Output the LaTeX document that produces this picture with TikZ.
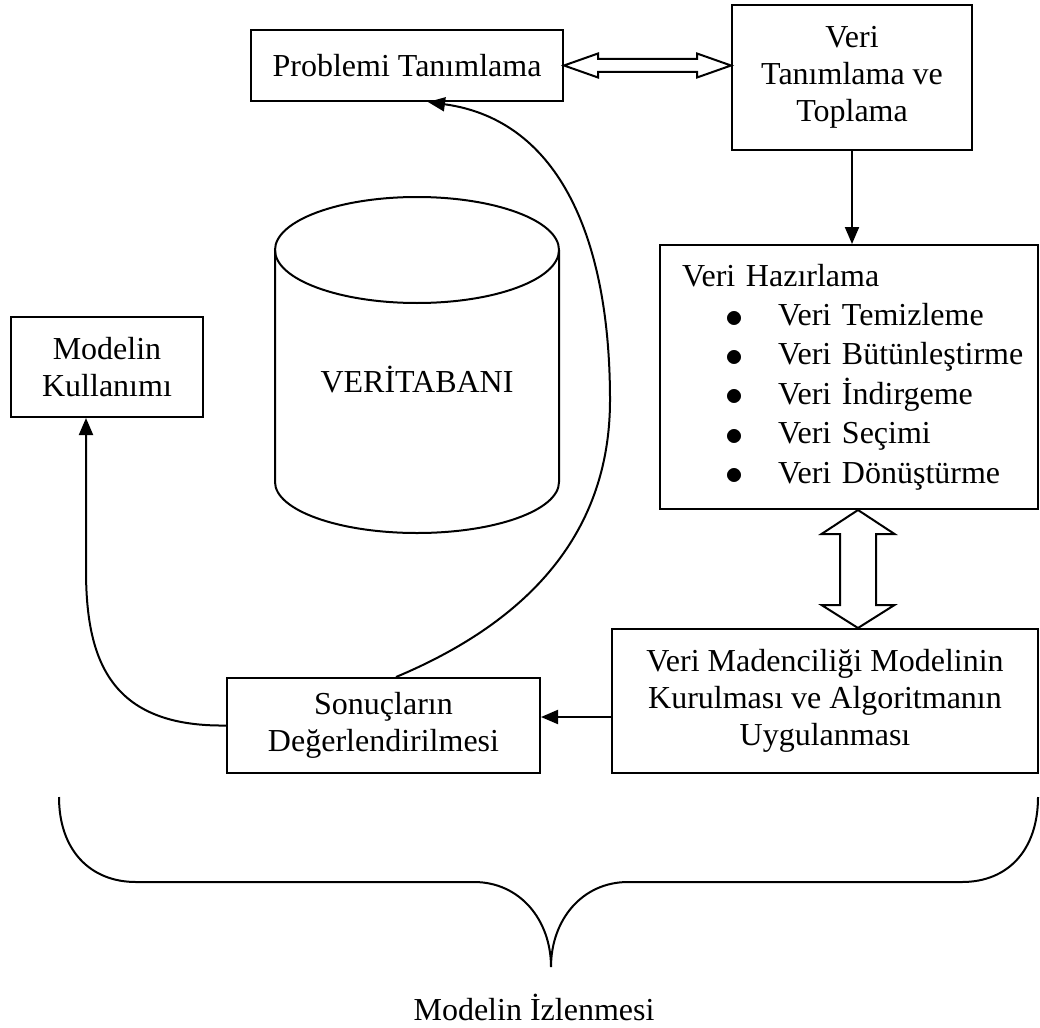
\documentclass[tikz,border=0pt]{standalone}
\usepackage{fontspec}
\setmainfont{Liberation Serif}
\usetikzlibrary{arrows.meta,calc}

\newcommand{\madde}[1]{\hspace*{75pt}\makebox[0pt]{\raisebox{-1.5pt}{\scalebox{1.45}{$\bullet$}}}\hspace*{43pt}#1}

\begin{document}
\begin{tikzpicture}[x=1pt,y=-1pt,
  every node/.style={font=\fontsize{32}{37}\selectfont},
  kutu/.style={draw,line width=2pt,inner sep=0pt,align=center},
  cizgi/.style={line width=2pt},
  ok/.style={line width=2pt,-{Triangle[length=17pt,width=14pt]}}]

\useasboundingbox (0,0) rectangle (1040,1027);

\node[kutu,minimum width=312,minimum height=71] (prob) at (407,65.5) {Problemi Tanımlama};
\node[kutu,minimum width=240,minimum height=145] (toplama) at (852,77.5) {Veri\\Tanımlama ve\\Toplama};
\node[kutu,align=left,text width=378pt,minimum height=264,
  font=\fontsize{32}{39.4}\selectfont] (hazir) at (849,377)
  {\hspace*{22pt}Veri Hazırlama\\\madde{Veri Temizleme}\\\madde{Veri Bütünleştirme}\\\madde{Veri İndirgeme}\\\madde{Veri Seçimi}\\\madde{Veri Dönüştürme}};
\node[kutu,minimum width=426,minimum height=144] (maden) at (825,701) {Veri Madenciliği Modelinin\\Kurulması ve Algoritmanın\\Uygulanması};
\node[kutu,minimum width=313,minimum height=95] (sonuc) at (383.5,725.5) {Sonuçların\\Değerlendirilmesi};
\node[kutu,minimum width=192,minimum height=100] (kullan) at (107,367) {Modelin\\Kullanımı};

% veritabani
\draw[cizgi] (417,250) ellipse [x radius=142,y radius=53];
\draw[cizgi] (275,250) -- (275,482) arc[start angle=180,end angle=0,x radius=142,y radius=51] -- (559,250);
\node (vt) at (417,380) {VERİTABANI};

% cift oklar
\coordinate (cA) at (prob.east);
\coordinate (cB) at (toplama.west |- prob.east);
\draw[cizgi] (cA) -- ++(34,-12) -- ++(0,5.5) -- ($(cB)+(-34,-6.5)$) -- ++(0,-5.5) -- (cB)
  -- ++(-34,12) -- ++(0,-5.5) -- ($(cA)+(34,6.5)$) -- ++(0,5.5) -- cycle;

\coordinate (ust) at ($(hazir.south)+(9,0)$);
\coordinate (alt) at (ust |- maden.north);
\draw[cizgi] (ust) -- ++(36.5,24) -- ++(-18.5,0) -- ($(alt)+(18,-23)$) -- ++(18.5,0) -- (alt)
  -- ++(-36.5,-23) -- ++(18.5,0) -- ($(ust)+(-18,24)$) -- ++(-18.5,0) -- cycle;

\draw[ok] (toplama.south) -- (toplama.south |- hazir.north);
\coordinate (s1) at ([yshift=8.5pt]sonuc.east);
\draw[ok] (maden.west |- s1) -- (s1);

\draw[ok] (sonuc.west) .. controls (110,727) and (86,660) .. (86,570) -- ([xshift=-21pt]kullan.south);
\draw[ok] ([xshift=12.5pt]sonuc.north) .. controls (520,625) and (610,540) .. (610,400)
  .. controls (610,240) and (560,120) .. ([xshift=21pt]prob.south);

% izleme
\draw[cizgi] (59,797) .. controls (59,850) and (90,882) .. (136,882) -- (474,882)
  .. controls (520,882) and (551,920) .. (551,967)
  .. controls (551,920) and (582,882) .. (628,882) -- (962,882)
  .. controls (1008,882) and (1038,850) .. (1038,797);
\node (izleme) at (534,1007) {Modelin İzlenmesi};

\end{tikzpicture}
\end{document}
